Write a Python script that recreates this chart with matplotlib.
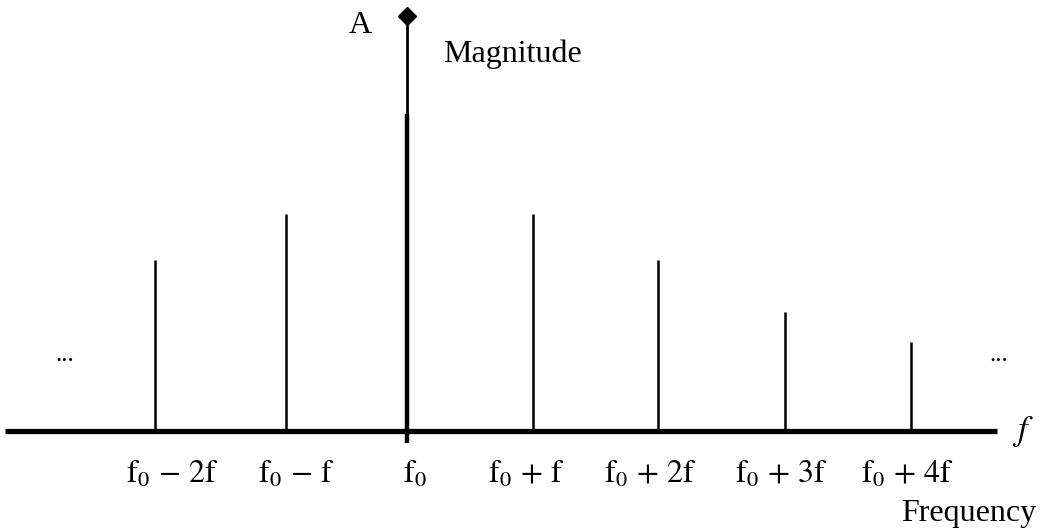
import numpy as np
import matplotlib.pyplot as plt

plt.rcParams['mathtext.fontset'] = 'stix'
plt.rcParams['font.family'] = ['Liberation Serif', 'DejaVu Serif']

# line positions (in units of the harmonic spacing, f0 at 0) and magnitudes (A = 1)
positions = [-2.0, -0.96, 0.0, 1.0, 1.99, 3.0, 4.0]
magnitudes = [0.41, 0.52, 0.76, 0.52, 0.41, 0.285, 0.213]
labels = [r'$\mathrm{f}_0\,-\,2\mathrm{f}$', r'$\mathrm{f}_0\,-\,\mathrm{f}$', r'$\mathrm{f}_0$',
          r'$\mathrm{f}_0\,+\,\mathrm{f}$', r'$\mathrm{f}_0\,+\,2\mathrm{f}$',
          r'$\mathrm{f}_0\,+\,3\mathrm{f}$', r'$\mathrm{f}_0\,+\,4\mathrm{f}$']
label_x = [-1.86, -0.88, 0.06, 0.95, 1.93, 2.97, 3.97]
peak = 0.995

fig = plt.figure(figsize=(10.44, 5.29), dpi=100)
ax = fig.add_axes([0, 0, 1, 1])
ax.set_xlim(-3.227, 5.051)
ax.set_ylim(-0.235, 1.0336)
ax.axis('off')

# frequency axis
ax.plot([-3.19, 4.68], [0, 0], color='black', lw=3.8, solid_capstyle='butt')

# spectral lines
for x, m in zip(positions, magnitudes):
    if x == 0:
        ax.vlines(x, -0.028, m, color='black', lw=3.2)
    else:
        ax.vlines(x, 0, m, color='black', lw=1.8)

# magnitude axis with diamond head
ax.plot([0, 0], [0, peak], color='black', lw=2.0)
ax.plot(0, peak, marker='D', color='black', markersize=9)

for x, s in zip(label_x, labels):
    ax.text(x, -0.125, s, ha='center', va='baseline', fontsize=23)

ax.text(-0.368, 0.954, 'A', ha='center', va='baseline', fontsize=23)
ax.text(0.29, 0.885, 'Magnitude', ha='left', va='baseline', fontsize=23)
ax.text(4.45, -0.216, 'Frequency', ha='center', va='baseline', fontsize=23)
ax.text(4.885, 0.0, r'$f$', ha='center', va='center', fontsize=25)
ax.text(-2.71, 0.182, '...', ha='center', va='center', fontsize=18)
ax.text(4.69, 0.182, '...', ha='center', va='center', fontsize=18)

plt.savefig('out.png', dpi=100)
